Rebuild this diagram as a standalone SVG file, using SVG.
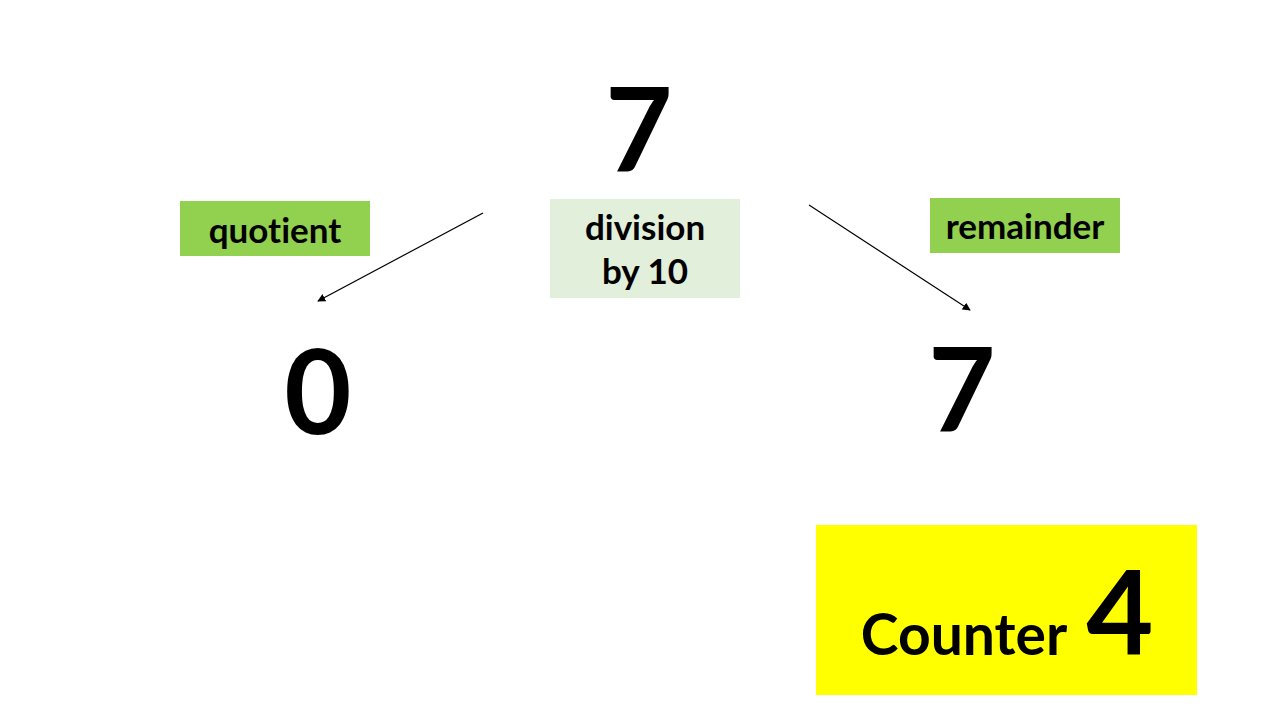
<svg xmlns="http://www.w3.org/2000/svg" width="1280" height="720" viewBox="0 0 1280 720">
<style>
text{font-family:Lato,"Open Sans","Liberation Sans",sans-serif;font-weight:bold;fill:#000;text-anchor:middle;font-variant-ligatures:none;font-feature-settings:"liga" 0}
.big{font-size:116px}
.lbl{font-size:35px}
.green{fill:#92D050}
.pale{fill:#E2EFDA}
.conn{stroke:#000;stroke-width:1.2;fill:none;marker-end:url(#ah)}
</style>
<defs>
<marker id="ah" viewBox="0 0 10 10" refX="9" refY="5" markerWidth="8" markerHeight="8" markerUnits="userSpaceOnUse" orient="auto">
<path d="M0,0 L10,5 L0,10 z" fill="#000"/>
</marker>
</defs>
<rect width="1280" height="720" fill="#fff"/>
<g id="top-number"><text class="big" x="639" y="172">7</text></g>
<g id="quotient-label"><rect class="green" x="180" y="201" width="190" height="55"/><text class="lbl" x="275" y="243">quotient</text></g>
<g id="division-label"><rect class="pale" x="550" y="199" width="190" height="99"/><text class="lbl" x="645" y="240">division</text><text class="lbl" x="645" y="284">by 10</text></g>
<g id="remainder-label"><rect class="green" x="930" y="198" width="190" height="55"/><text class="lbl" x="1025" y="239">remainder</text></g>
<g id="quotient-value"><text class="big" x="318" y="434">0</text></g>
<g id="remainder-value"><text class="big" x="962" y="432">7</text></g>
<g id="counter"><rect x="816" y="525" width="381" height="170" fill="#FFFF00"/><text x="964" y="655" style="font-size:57px">Counter</text><text class="big" x="1120" y="655">4</text></g>
<g id="connectors">
<line class="conn" x1="483" y1="213" x2="318" y2="301"/>
<line class="conn" x1="809" y1="205" x2="970" y2="310"/>
</g>
</svg>
